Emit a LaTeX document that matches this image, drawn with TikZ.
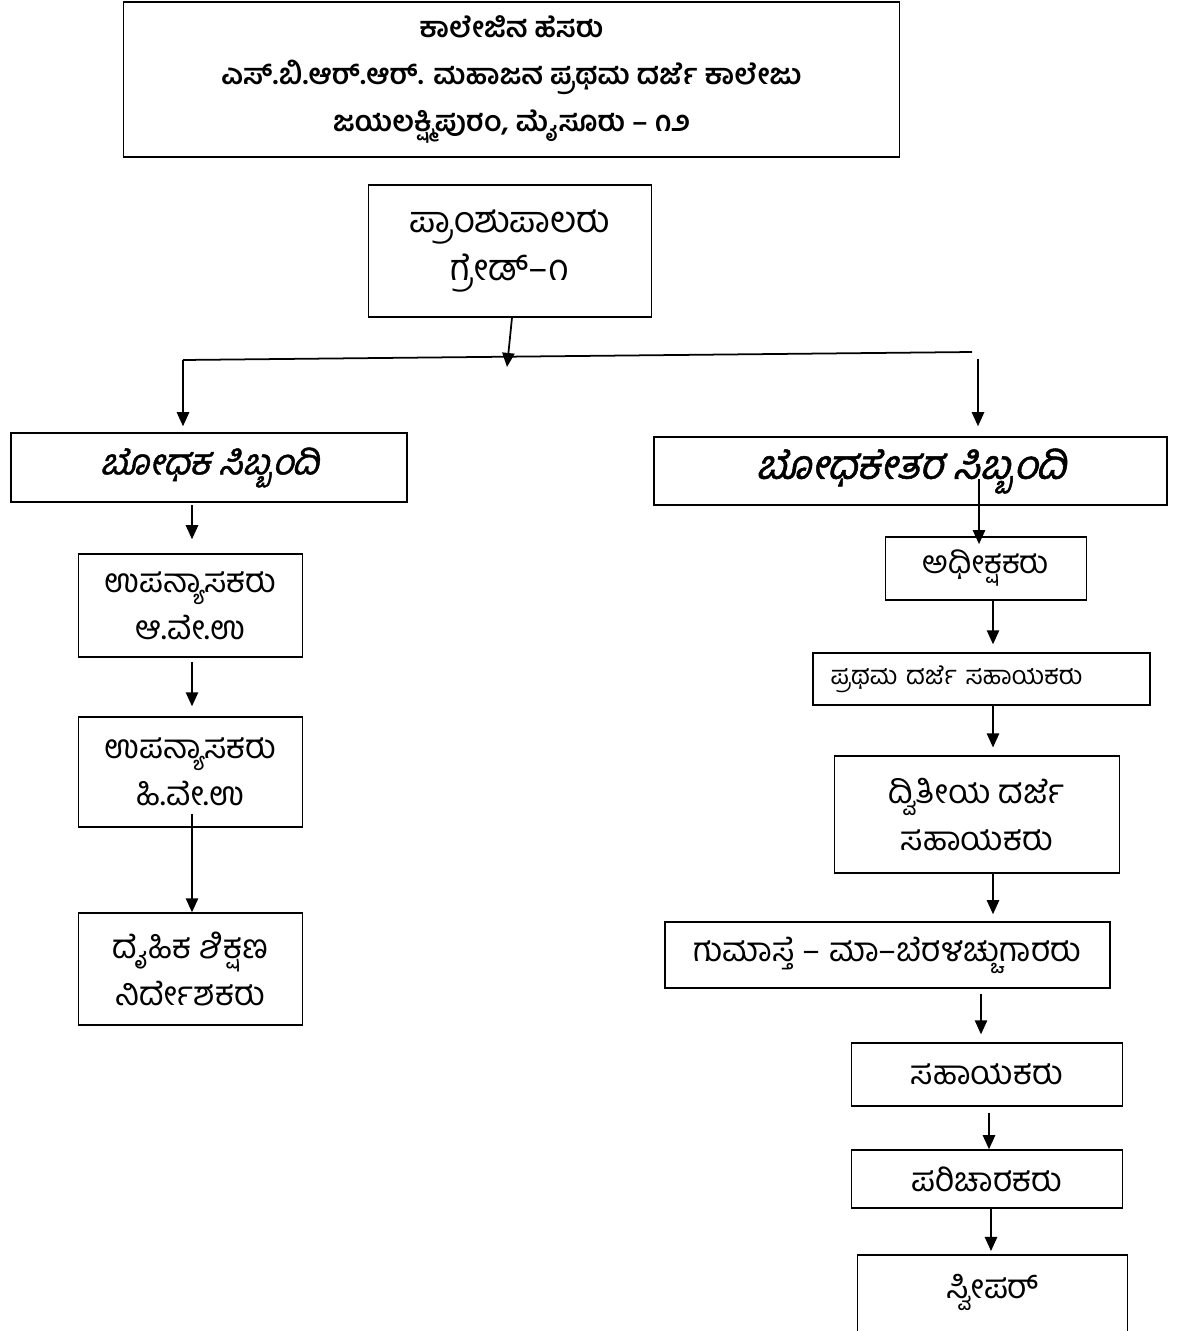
\documentclass[tikz,border=0pt]{standalone}
\usepackage{fontspec}
\usepackage{tikz}
\usetikzlibrary{arrows.meta}
\newfontfamily\kan[Script=Kannada]{Hind Mysuru}
\newfontfamily\kanslant[Script=Kannada,FakeSlant=0.25,FakeBold=1.2]{Hind Mysuru}

\begin{document}
\begin{tikzpicture}[%
      x=0.02cm, y=-0.02cm,
      box/.style={draw, line width=1pt, inner sep=0pt, align=center,
        font=\kan\fontsize{19}{26.6}\selectfont},
      wh/.style 2 args={minimum width=#1*0.5669pt, minimum height=#2*0.5669pt},
      arr/.style={line width=1pt, -{Triangle[length=8pt,width=7pt]}},
      ]
      \clip (0,0) rectangle (1191,1331);

      \node[box, wh={779}{155}, font=\kan\bfseries\fontsize{16.2}{26.5}\selectfont] (college) at (511.5,79.5)
        {ಕಾಲೇಜಿನ ಹೆಸರು\\ಎಸ್.ಬಿ.ಆರ್.ಆರ್. ಮಹಾಜನ ಪ್ರಥಮ ದರ್ಜೆ ಕಾಲೇಜು\\ಜಯಲಕ್ಷ್ಮಿಪುರಂ, ಮೈಸೂರು – ೧೨};
      \node[box, wh={284}{132}, font=\kan\fontsize{20.7}{27}\selectfont] (principal) at (510,251)
        {ಪ್ರಾಂಶುಪಾಲರು\\ಗ್ರೇಡ್–೧};

      \node[box, wh={398}{69}, font=\kanslant\fontsize{20.4}{27}\selectfont] (teach) at (209,467.5) {ಬೋಧಕ ಸಿಬ್ಬಂದಿ};
      \node[box, wh={515}{68}, font=\kanslant\fontsize{23}{27}\selectfont] (nonteach) at (910.5,471) {ಬೋಧಕೇತರ ಸಿಬ್ಬಂದಿ};

      \node[box, wh={225}{103}] (lecA) at (190.5,605.5) {ಉಪನ್ಯಾಸಕರು\\ಆ.ವೇ.ಉ};
      \node[box, wh={225}{110}] (lecB) at (190.5,772) {ಉಪನ್ಯಾಸಕರು\\ಹಿ.ವೇ.ಉ};
      \node[box, wh={225}{112}] (pe) at (190.5,969) {ದೈಹಿಕ ಶಿಕ್ಷಣ\\ನಿರ್ದೇಶಕರು};

      \node[box, wh={202}{63}, font=\kan\fontsize{18}{26}\selectfont] (supt) at (986,568.5) {ಅಧೀಕ್ಷಕರು};
      \node[box, wh={339}{52}, align=left, inner xsep=10.2pt, text width=171.8pt,
        font=\kan\fontsize{14.6}{20}\selectfont] (fda) at (981.5,679) {ಪ್ರಥಮ ದರ್ಜೆ ಸಹಾಯಕರು};
      \node[box, wh={286}{117}] (sda) at (977,814.5) {ದ್ವಿತೀಯ ದರ್ಜೆ\\ಸಹಾಯಕರು};
      \node[box, wh={447}{66}] (clerk) at (887.5,955) {ಗುಮಾಸ್ತೆ – ಮಾ–ಬೆರಳಚ್ಚುಗಾರರು};
      \node[box, wh={272}{63}] (asst) at (987,1074.5) {ಸಹಾಯಕರು};
      \node[box, wh={272}{58}] (attender) at (987,1179) {ಪರಿಚಾರಕರು};
      \node[box, minimum width=271*0.5669pt, text height=24.9pt, text depth=28.3pt,
        anchor=north] (sweeper) at (992.5,1254) {ಸ್ವೀಪರ್};

      \coordinate (hub) at (507,367);
      \coordinate (lend) at (183,360);
      \coordinate (rend) at (972,352);
      \coordinate (rdrop) at (978,359);

      \draw[arr] (principal.south -| 512,0) -- (hub);
      \draw[line width=1pt] (lend) -- (rend);
      \draw[arr, shorten >=3.4pt] (lend) -- (teach.north -| lend);
      \draw[arr, shorten >=5.7pt] (rdrop) -- (nonteach.north -| rdrop);

      \draw[arr, shorten <=1.5pt, shorten >=8pt] (teach.south -| 192,0) -- (lecA.north -| 192,0);
      \draw[arr, shorten <=2.3pt, shorten >=5.7pt] (lecA.south -| 192,0) -- (lecB.north -| 192,0);
      \draw[arr, shorten <=-8pt] (lecB.south -| 192,0) -- (pe.north -| 192,0);

      \draw[arr, shorten <=-15.3pt, shorten >=-4.5pt] (nonteach.south -| 979,0) -- (supt.north -| 979,0);
      \draw[arr, shorten >=4.5pt] (supt.south -| 993,0) -- (fda.north -| 993,0);
      \draw[arr, shorten >=4.5pt] (fda.south -| 993,0) -- (sda.north -| 993,0);
      \draw[arr, shorten >=4pt] (sda.south -| 993,0) -- (clerk.north -| 993,0);
      \draw[arr, shorten <=2.8pt, shorten >=4.5pt] (clerk.south -| 981,0) -- (asst.north -| 981,0);
      \draw[arr, shorten <=3.4pt] (asst.south -| 989,0) -- (attender.north -| 989,0);
      \draw[arr, shorten >=1.7pt] (attender.south -| 991,0) -- (sweeper.north -| 991,0);
      \end{tikzpicture}
\end{document}
